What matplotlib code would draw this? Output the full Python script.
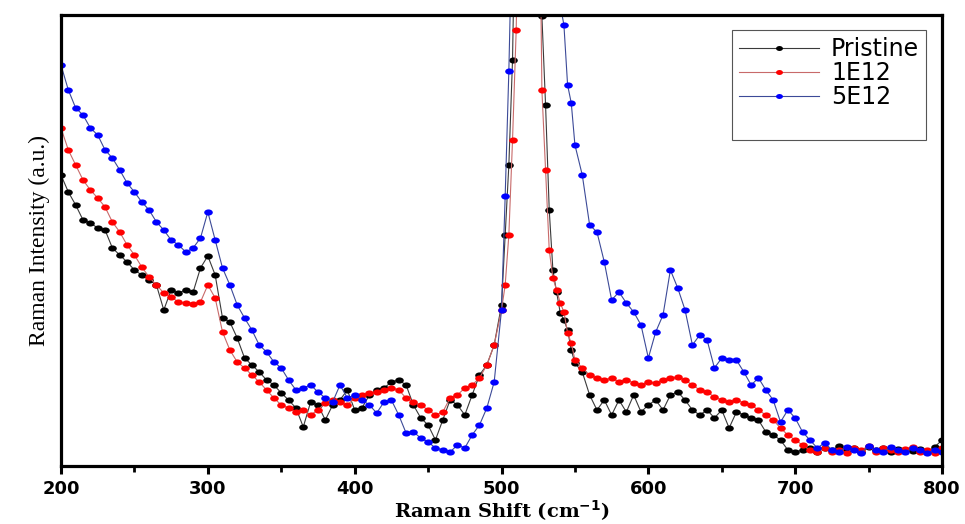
import numpy as np
import matplotlib
matplotlib.use("Agg")
import matplotlib.pyplot as plt
from matplotlib.lines import Line2D
from matplotlib.path import Path
from matplotlib.transforms import Affine2D

# Raman shift (cm^-1): 5 cm^-1 steps, finer across the Si peak
shift = np.concatenate([np.arange(200, 500, 5.0),
                        np.arange(500, 550, 2.5),
                        np.arange(550, 801, 5.0)])

pristine = [
    291, 274, 261, 246, 243, 238, 236, 218, 211, 204, 196, 191, 186, 181, 156,
    176, 173, 176, 174, 198, 210, 191, 148, 144, 128, 108, 101, 94, 86, 81,
    73, 66, 58, 39, 64, 61, 46, 61, 66, 76, 56, 58, 71, 76, 78, 84, 86, 81,
    61, 48, 41, 26, 46, 66, 61, 51, 71, 91, 101, 121,
    161, 231, 301, 406, 620, 900, 1100, 1150, 1050, 850, 600, 450, 361, 256,
    196, 174, 153, 146, 136, 116,
    103, 94, 71, 56, 66, 51, 66, 54, 71, 54, 61, 66, 56, 71, 74, 66, 56, 51,
    56, 48, 56, 38, 54, 51, 48, 46, 34, 31, 26, 16, 14, 16, 18, 14, 18, 16,
    20, 16, 18, 14, 19, 16, 18, 14, 17, 16, 15, 17, 14, 19, 26,
]

dose_1e12 = [
    338, 316, 301, 286, 276, 268, 259, 244, 234, 221, 211, 199, 189, 181, 173,
    169, 164, 163, 162, 164, 181, 168, 134, 116, 104, 98, 91, 84, 76, 68,
    61, 58, 54, 56, 51, 56, 63, 66, 64, 61, 68, 71, 73, 74, 76, 78, 76, 68,
    64, 61, 56, 51, 54, 68, 71, 78, 81, 88, 101, 121,
    156, 181, 231, 326, 436, 650, 900, 1100, 1120, 950, 700, 376, 296, 216,
    188, 176, 163, 154, 133, 123,
    106, 98, 91, 88, 86, 88, 84, 86, 83, 81, 84, 83, 86, 88, 89, 86, 81, 76,
    74, 69, 66, 64, 66, 63, 61, 56, 51, 46, 38, 31, 26, 21, 16, 14, 18, 14,
    16, 13, 18, 16, 20, 14, 18, 16, 14, 17, 19, 14, 16, 13, 18,
]

dose_5e12 = [
    401, 376, 358, 351, 338, 331, 316, 308, 296, 283, 274, 264, 256, 244, 236,
    226, 221, 214, 218, 228, 254, 226, 198, 181, 161, 148, 136, 121, 114, 104,
    98, 86, 76, 78, 81, 74, 68, 64, 81, 68, 71, 66, 61, 53, 64, 66, 51, 33,
    34, 28, 24, 18, 16, 14, 21, 18, 31, 41, 58, 84,
    156, 270, 395, 560, 750, 950, 1100, 1200, 1250, 1200, 1100, 950, 820, 700,
    600, 530, 461, 441, 381, 363,
    321, 291, 241, 234, 204, 166, 174, 163, 154, 141, 108, 134, 151, 196, 178,
    156, 121, 131, 126, 98, 108, 106, 106, 94, 81, 88, 76, 66, 44, 56, 48, 34,
    26, 18, 23, 16, 14, 19, 16, 13, 20, 16, 14, 19, 16, 14, 18, 16, 13, 16, 14,
]

labels = ["Pristine", "1E12", "5E12"]
marker_colors = ["#000000", "#ff0000", "#0000ff"]
line_colors = ["#3a3a3a", "#c86a6a", "#3c4a98"]

# flattened dot, as in the stretched original
dot = Path.unit_circle().transformed(Affine2D().scale(1.4, 1.0))

fig = plt.figure(figsize=(9.65, 5.24), dpi=100)
ax = fig.add_axes([0.0632, 0.1107, 0.913, 0.8607])

handles = []
for y, lab, mc, lc in zip([pristine, dose_1e12, dose_5e12], labels, marker_colors, line_colors):
    ax.plot(shift, y, '-', color=lc, lw=0.8)
    ax.plot(shift, y, ls='none', marker=dot, color=mc, ms=6.2, mew=0)
    handles.append(Line2D([], [], color=lc, lw=0.8, marker=dot, ms=5,
                          mfc=mc, mec=mc, mew=0))

ax.set_xlim(200, 800)
ax.set_ylim(0, 451)
ax.set_yticks([])
ax.set_xticks([200, 300, 400, 500, 600, 700, 800])
ax.set_xticks([250, 350, 450, 550, 650, 750], minor=True)
ax.tick_params(axis='x', which='major', direction='out', length=6, width=2.2,
               labelsize=13, pad=4)
ax.tick_params(axis='x', which='minor', direction='out', length=4, width=2)
for t in ax.get_xticklabels():
    t.set_fontweight('bold')
for s in ax.spines.values():
    s.set_linewidth(2.3)

ax.set_xlabel("Raman Shift (cm$^{\\mathbf{-1}}$)", family="DejaVu Serif",
              fontweight='bold', fontsize=14, labelpad=0)
ax.set_ylabel("Raman Intensity (a.u.)", family="Liberation Serif",
              fontsize=17, labelpad=8)

blank = Line2D([], [], alpha=0)
leg = ax.legend(handles + [blank], labels + [" "], loc='upper right',
                bbox_to_anchor=(0.9955, 0.993), fontsize=17, handlelength=3.4,
                handletextpad=0.5, labelspacing=0.0, borderpad=0.3,
                fancybox=False, framealpha=1)
leg.get_frame().set_edgecolor('#555555')
leg.get_frame().set_linewidth(0.8)

fig.savefig("out.png", dpi=100)
